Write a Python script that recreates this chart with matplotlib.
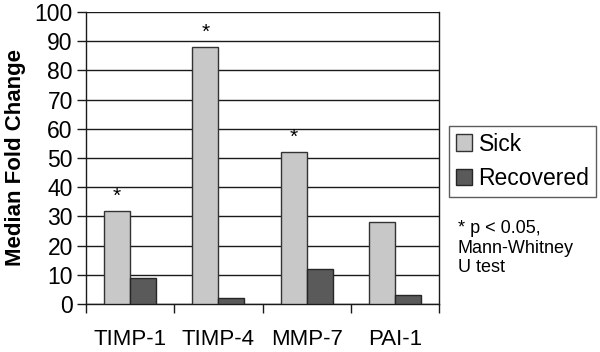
import matplotlib.pyplot as plt
import numpy as np

plt.rcParams['font.family'] = ['Liberation Sans', 'DejaVu Sans']

categories = ["TIMP-1", "TIMP-4", "MMP-7", "PAI-1"]
sick = [32, 88, 52, 28]
recovered = [9, 2, 12, 3]
significant = [True, True, True, False]
y_ticks = list(range(0, 101, 10))

fig = plt.figure(figsize=(6.0, 3.52), dpi=100)
ax = fig.add_axes([0.1433, 0.1364, 0.5884, 0.8296])

x = np.arange(len(categories))
w = 0.295
ax.bar(x - w / 2, sick, w, color="#c8c8c8", edgecolor="#333333", lw=1.0,
       label="Sick", zorder=3)
ax.bar(x + w / 2, recovered, w, color="#5a5a5a", edgecolor="#262626", lw=1.0,
       label="Recovered", zorder=3)

for xi, v, s in zip(x, sick, significant):
    if s:
        ax.text(xi - w / 2, v + 5, "*", ha="center", va="center", fontsize=15)

ax.set_xlim(-0.5, len(categories) - 0.5)
ax.set_ylim(0, 100)
ax.set_yticks(y_ticks)
ax.yaxis.grid(True, color="#1a1a1a", lw=1.0, zorder=0)
ax.tick_params(axis="y", length=6.5, width=1.0, labelsize=16.5, pad=3, color="#1a1a1a")

ax.set_xticks(np.arange(len(categories) + 1) - 0.5)
ax.set_xticklabels([])
ax.tick_params(axis="x", which="major", length=6.5, width=1.0, color="#1a1a1a")
ax.set_xticks(x, minor=True)
ax.set_xticklabels(categories, minor=True)
ax.tick_params(axis="x", which="minor", length=0, labelsize=16, pad=18)

for side in ["left", "right", "bottom"]:
    ax.spines[side].set_color("#1a1a1a")
    ax.spines[side].set_linewidth(1.0)
ax.spines["top"].set_visible(False)

ax.set_ylabel("Median Fold Change", fontsize=16, fontweight="bold", labelpad=6)

leg = fig.legend(loc="upper left", bbox_to_anchor=(0.748, 0.643), fontsize=16.5,
                 frameon=True, fancybox=False, edgecolor="#333333",
                 handlelength=0.7, handleheight=0.7, handletextpad=0.3,
                 borderpad=0.3, labelspacing=0.5, borderaxespad=0)
leg.get_frame().set_linewidth(1.0)

fig.text(0.763, 0.375, "* p < 0.05,\nMann-Whitney\nU test", fontsize=13,
         va="top", ha="left", linespacing=1.2)

fig.savefig("out.png", dpi=100)
